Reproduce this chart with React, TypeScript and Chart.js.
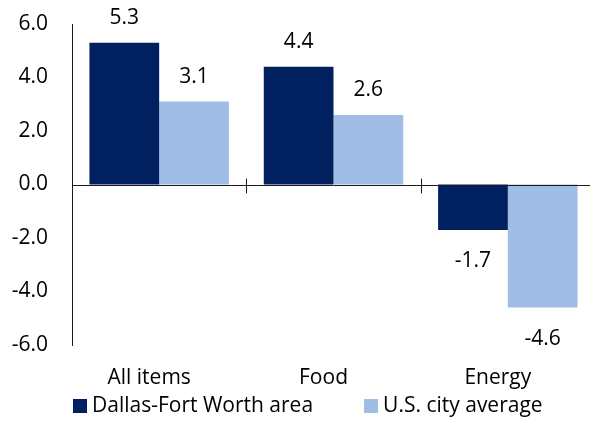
import React, { useEffect, useRef } from "react";
import { Chart, registerables } from "chart.js";

Chart.register(...registerables);

const categories = ["All items", "Food", "Energy"];
const seriesNames = ["Dallas-Fort Worth area", "U.S. city average"];
const dallasValues = [5.3, 4.4, -1.7];
const usValues = [3.1, 2.6, -4.6];
const yTicks = [-6, -4, -2, 0, 2, 4, 6];
const seriesColors = ["#002060", "#9FBDE5"];

const FONT = "'Open Sans', sans-serif";

const labelsPlugin = {
  id: "valueLabels",
  afterDatasetsDraw(chart: any) {
    const { ctx } = chart;
    ctx.save();
    ctx.font = `21px ${FONT}`;
    ctx.fillStyle = "#000";
    ctx.textAlign = "center";
    ctx.textBaseline = "middle";
    chart.data.datasets.forEach((ds: any, di: number) => {
      const meta = chart.getDatasetMeta(di);
      meta.data.forEach((el: any, i: number) => {
        const v = ds.data[i];
        const y = v >= 0 ? el.y - 25 : el.y + 31;
        ctx.fillText(v.toFixed(1), el.x, y);
      });
    });
    ctx.restore();
  },
};

const axisPlugin = {
  id: "zeroAxis",
  afterDatasetsDraw(chart: any) {
    const { ctx, chartArea } = chart;
    const xs = chart.scales.x;
    const ys = chart.scales.y;
    const y0 = Math.round(ys.getPixelForValue(0)) + 0.5;
    ctx.save();
    ctx.strokeStyle = "#1a1a1a";
    ctx.lineWidth = 1;
    ctx.beginPath();
    ctx.moveTo(chartArea.left, y0);
    ctx.lineTo(chartArea.right, y0);
    for (let i = 0; i < categories.length - 1; i++) {
      const xb =
        Math.round((xs.getPixelForValue(i) + xs.getPixelForValue(i + 1)) / 2) + 0.5;
      ctx.moveTo(xb, y0 - 7);
      ctx.lineTo(xb, y0 + 8);
    }
    ctx.stroke();
    ctx.restore();
  },
};

const legendPlugin = {
  id: "customLegend",
  afterDraw(chart: any) {
    const { ctx, height } = chart;
    const cy = height - 15;
    ctx.save();
    ctx.font = `21px ${FONT}`;
    ctx.textBaseline = "middle";
    ctx.textAlign = "left";
    let x = 73;
    chart.data.datasets.forEach((ds: any) => {
      ctx.fillStyle = ds.backgroundColor;
      ctx.fillRect(x, cy - 7, 14, 14);
      ctx.fillStyle = "#000";
      ctx.fillText(ds.label, x + 19, cy);
      x += 19 + ctx.measureText(ds.label).width + 51;
    });
    ctx.restore();
  },
};

export default function App() {
  const ref = useRef<HTMLCanvasElement | null>(null);
  useEffect(() => {
    if (!ref.current) return;
    const chart = new Chart(ref.current, {
      type: "bar",
      data: {
        labels: categories,
        datasets: [
          {
            label: seriesNames[0],
            data: dallasValues,
            backgroundColor: seriesColors[0],
            borderWidth: 0,
            categoryPercentage: 0.8,
            barPercentage: 1.0,
          },
          {
            label: seriesNames[1],
            data: usValues,
            backgroundColor: seriesColors[1],
            borderWidth: 0,
            categoryPercentage: 0.8,
            barPercentage: 1.0,
          },
        ],
      },
      options: {
        responsive: false,
        animation: false,
        devicePixelRatio: 1,
        layout: { padding: { top: 24, right: 0, left: 0, bottom: 31 } },
        plugins: {
          tooltip: { enabled: false },
          legend: { display: false },
        },
        scales: {
          x: {
            grid: { display: false, drawTicks: false },
            border: { display: false },
            afterFit: (axis: any) => {
              axis.height = 45;
              axis.paddingLeft = 0;
              axis.paddingRight = 0;
            },
            ticks: {
              color: "#000",
              padding: 20,
              labelOffset: -10,
              font: { family: FONT, size: 21 },
              maxRotation: 0,
            },
          },
          y: {
            min: -6,
            max: 6,
            afterBuildTicks: (axis: any) => {
              axis.ticks = yTicks.map((v) => ({ value: v }));
            },
            afterFit: (axis: any) => {
              axis.width = 72;
              axis.paddingTop = 0;
              axis.paddingBottom = 0;
            },
            grid: { display: false, drawTicks: false },
            border: { display: true, color: "#1a1a1a", width: 1 },
            ticks: {
              color: "#000",
              padding: 24,
              font: { family: FONT, size: 21 },
              callback: (v: any) => Number(v).toFixed(1),
            },
          },
        },
      },
      plugins: [axisPlugin, labelsPlugin, legendPlugin],
    });
    return () => chart.destroy();
  }, []);
  return (
    <div
      style={{
        position: "fixed",
        left: 0,
        top: 0,
        width: 590,
        height: 421,
        overflow: "hidden",
        background: "#fff",
      }}
    >
      <canvas ref={ref} width={595} height={421} style={{ display: "block" }} />
    </div>
  );
}
